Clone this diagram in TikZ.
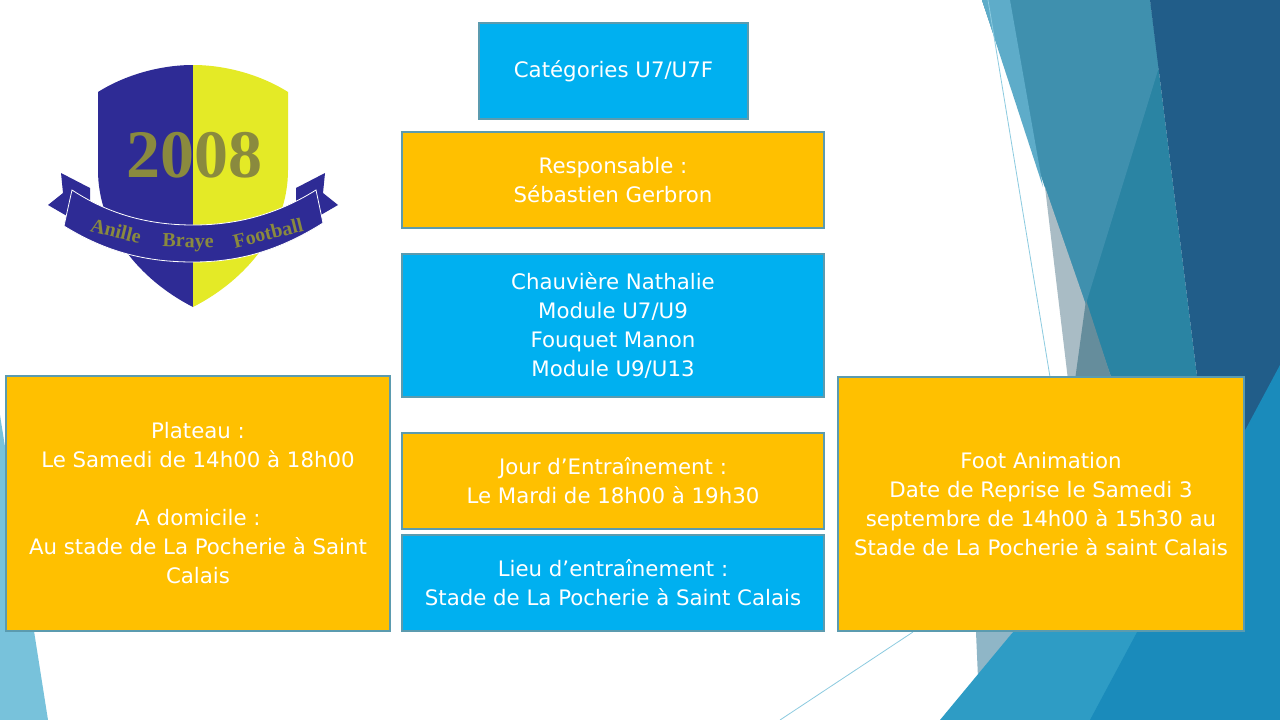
\documentclass[tikz,border=0pt]{standalone}
\usepackage{fontspec}
\setmainfont{DejaVu Sans}
\newfontfamily\logofont{Liberation Serif}
\definecolor{cblue}{HTML}{00B0F0}
\definecolor{corange}{HTML}{FFC000}
\definecolor{bordc}{HTML}{5B9BAF}
\definecolor{shieldblue}{HTML}{2E2B95}
\definecolor{shieldyellow}{HTML}{E4EA26}
\definecolor{logoolive}{HTML}{8A8A3E}
\definecolor{tealA}{HTML}{2A84A3}
\definecolor{tealB}{HTML}{3F90AE}
\definecolor{sliverc}{HTML}{5EACC9}
\definecolor{darkblue}{HTML}{215D89}
\definecolor{lightbl}{HTML}{1A8BBB}
\definecolor{medbl}{HTML}{2E9CC5}
\definecolor{greyA}{HTML}{A9BCC5}
\definecolor{greyB}{HTML}{658D9C}
\definecolor{greyC}{HTML}{8FB6C7}
\definecolor{leftsl}{HTML}{78C2DB}
\definecolor{thinline}{HTML}{8CCBE0}
\tikzset{
  box/.style={draw=bordc, line width=1.5pt, text=white, align=center, inner sep=0pt,
    font=\fontsize{21.3}{29}\selectfont},
  bluebox/.style={box, fill=cblue},
  orangebox/.style={box, fill=corange},
  bandtext/.style={text=logoolive, font=\logofont\bfseries\fontsize{20}{20}\selectfont, inner sep=0pt}
}
\begin{document}
\begin{tikzpicture}[x=1pt,y=-1pt]
\useasboundingbox (0,0) rectangle (1280,720);
\fill[white] (0,0) rectangle (1280,720);
% background shapes, right
\fill[tealA] (982,0) -- (1150,0) -- (1230,640) -- (1200,640) -- cycle;
\fill[tealB] (982,0) -- (1150,0) -- (1159,67) -- (1085,307) -- cycle;
\fill[sliverc] (982,0) -- (1010,0) -- (1043,187) -- cycle;
\fill[greyA] (1045,187) -- (1112,380) -- (1068,380) -- cycle;
\fill[greyB] (1086,300) -- (1112,380) -- (1075,380) -- cycle;
\fill[darkblue] (1150,0) -- (1280,0) -- (1280,640) -- (1230,640) -- cycle;
\fill[greyC] (976,632) -- (1013,632) -- (978,678) -- cycle;
\fill[medbl] (940,720) -- (1013,632) -- (1160,450) -- (1280,450) -- (1280,720) -- cycle;
\fill[lightbl] (1280,365) -- (1280,720) -- (1090,720) -- cycle;
\draw[thinline, line width=0.8pt] (988,0) -- (1050,377);
\draw[thinline, line width=0.8pt] (913,632) -- (780,720);
% background shape, left
\fill[leftsl] (0,415) -- (48,720) -- (0,720) -- cycle;
% logo
\fill[shieldblue] (61,173) -- (90,188) -- (90,222) -- (67,216) -- (48,205) -- (63,193) -- cycle;
\fill[shieldblue] (325,173) -- (296,188) -- (296,222) -- (319,216) -- (338,205) -- (323,193) -- cycle;
\fill[shieldblue] (98,92) .. controls (125,75) and (160,65) .. (193,65) -- (193,307)
  .. controls (140,280) and (98,230) .. (98,170) -- cycle;
\fill[shieldyellow] (288,92) .. controls (261,75) and (226,65) .. (193,65) -- (193,307)
  .. controls (246,280) and (288,230) .. (288,170) -- cycle;
\node[text=logoolive, font=\logofont\bfseries\fontsize{68}{68}\selectfont, inner sep=0pt, anchor=base]
  (year) at (194,177) {2008};
\filldraw[fill=shieldblue, draw=white, line width=0.8pt]
  (72,190) .. controls (110,215) and (150,225) .. (193,225)
  .. controls (236,225) and (276,215) .. (316,190) -- (323,223)
  .. controls (280,250) and (240,262) .. (193,262)
  .. controls (146,262) and (106,252) .. (64,226) -- cycle;
\node[bandtext, rotate=-14] (w1) at (116,231) {Anille};
\node[bandtext, rotate=-2] (w2) at (188,243) {Braye};
\node[bandtext, rotate=14] (w3) at (268,233) {Football};
% boxes
\node[bluebox, minimum width=269pt, minimum height=96pt] (cat) at (613.5,71) {Catégories U7/U7F};
\node[orangebox, minimum width=422pt, minimum height=96pt] (resp) at (613,180) {Responsable :\\Sébastien Gerbron};
\node[bluebox, minimum width=422pt, minimum height=143pt] (chauv) at (613,325.5)
  {Chauvière Nathalie\\Module U7/U9\\Fouquet Manon\\Module U9/U13};
\node[orangebox, minimum width=422pt, minimum height=96pt] (jour) at (613,481)
  {Jour d’Entraînement :\\Le Mardi de 18h00 à 19h30};
\node[bluebox, minimum width=422pt, minimum height=96pt] (lieu) at (613,583)
  {Lieu d’entraînement :\\Stade de La Pocherie à Saint Calais};
\node[orangebox, minimum width=384pt, minimum height=255pt] (plat) at (198,503.5)
  {Plateau :\\Le Samedi de 14h00 à 18h00\\\mbox{}\\A domicile :\\Au stade de La Pocherie à Saint\\Calais};
\node[orangebox, minimum width=406pt, minimum height=254pt] (foot) at (1041,504)
  {Foot Animation\\Date de Reprise le Samedi 3\\septembre de 14h00 à 15h30 au\\Stade de La Pocherie à saint Calais};
\end{tikzpicture}
\end{document}
